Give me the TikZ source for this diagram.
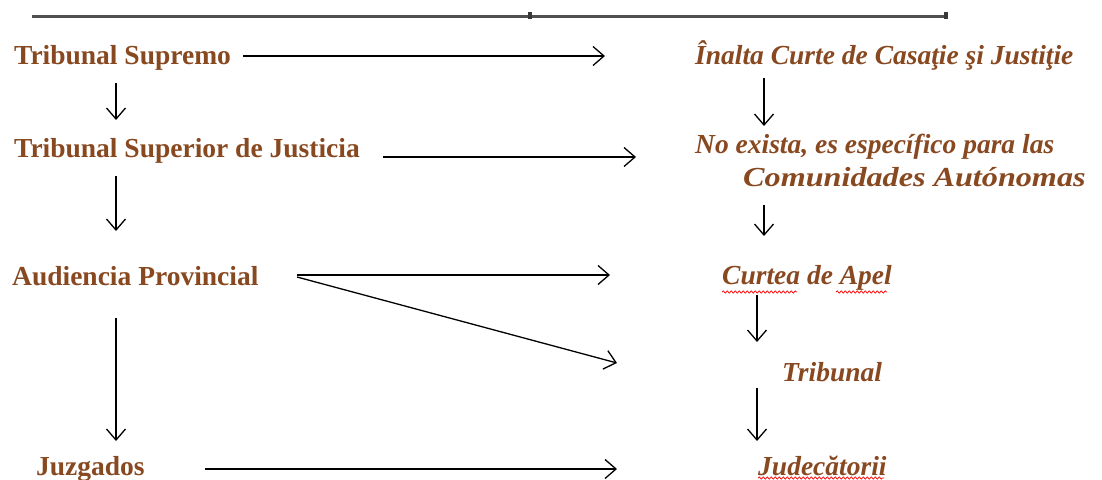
\documentclass[tikz,border=0pt]{standalone}
\usepackage{fontspec}
\setmainfont{Liberation Serif}
\usetikzlibrary{arrows.meta,decorations.pathmorphing}
\definecolor{court}{RGB}{136,72,32}
\definecolor{rule}{RGB}{80,80,80}
\begin{document}
\begin{tikzpicture}[x=1pt,y=-1pt,
  es/.style={anchor=base west,inner sep=0pt,text=court,font=\fontsize{27.5}{30}\selectfont\bfseries},
  ro/.style={anchor=base west,inner sep=0pt,text=court,font=\fontsize{27.5}{33}\selectfont\bfseries\itshape,align=left},
  arr/.style={line width=1.3pt,-{Straight Barb[length=11pt,width=19pt,line width=1.3pt]}},
  spell/.style={red,line width=0.7pt,decorate,decoration={snake,amplitude=1.1pt,segment length=4pt}}]
\useasboundingbox[fill=white] (0,0) rectangle (1102,479);

% header rule
\draw[rule,line width=3pt] (32,16) -- (946,16);
\fill[rule!70!black] (528,12) rectangle (532,19);
\fill[rule!70!black] (944,12) rectangle (948,19);

% Spanish courts (left column)
\node[es] (ts)  at (14,64)  {Tribunal Supremo};
\node[es] (tsj) at (14,157) {Tribunal Superior de Justicia};
\node[es] (ap)  at (12,285) {Audiencia Provincial};
\node[es] (jz)  at (36,475) {Juzgados};

% Romanian courts (right column)
\node[ro] (iccj) at (695,64)  {Înalta Curte de Casaţie şi Justiţie};
\node[ro] (ne)   at (695,153) {No exista, es específico para las};
\node[ro] (ca)   at (743,186) {\addfontfeature{FakeStretch=1.17}Comunidades Autónomas};
\node[ro] (cap)  at (722,284) {Curtea de Apel};
\node[ro] (trib) at (782,381) {Tribunal};
\node[ro] (jud)  at (758,475) {Judecătorii};

% spell-check marks
\draw[spell] (722,292) -- (797,292);
\draw[spell] (836,292) -- (887,292);
\draw[spell] (758,478) -- (884,478);

% horizontal correspondences
\coordinate (h1s) at (243,56);  \coordinate (h1e) at (605,56);
\coordinate (h2s) at (383,157); \coordinate (h2e) at (636,157);
\coordinate (h3s) at (297,275); \coordinate (h3e) at (610,275);
\coordinate (h4s) at (297,277); \coordinate (h4e) at (617,363);
\coordinate (h5s) at (205,469); \coordinate (h5e) at (617,469);
\draw[arr] (h1s) -- (h1e);
\draw[arr] (h2s) -- (h2e);
\draw[arr] (h3s) -- (h3e);
\draw[arr] (h4s) -- (h4e);
\draw[arr] (h5s) -- (h5e);

% hierarchy, left
\coordinate (l1s) at (116,83);  \coordinate (l1e) at (116,120);
\coordinate (l2s) at (116,176); \coordinate (l2e) at (116,231);
\coordinate (l3s) at (116,318); \coordinate (l3e) at (116,441);
\draw[arr] (l1s) -- (l1e);
\draw[arr] (l2s) -- (l2e);
\draw[arr] (l3s) -- (l3e);

% hierarchy, right
\coordinate (r1s) at (764,78);  \coordinate (r1e) at (764,126);
\coordinate (r2s) at (764,205); \coordinate (r2e) at (764,236);
\coordinate (r3s) at (757,295); \coordinate (r3e) at (757,342);
\coordinate (r4s) at (757,388); \coordinate (r4e) at (757,441);
\draw[arr] (r1s) -- (r1e);
\draw[arr] (r2s) -- (r2e);
\draw[arr] (r3s) -- (r3e);
\draw[arr] (r4s) -- (r4e);
\end{tikzpicture}
\end{document}
